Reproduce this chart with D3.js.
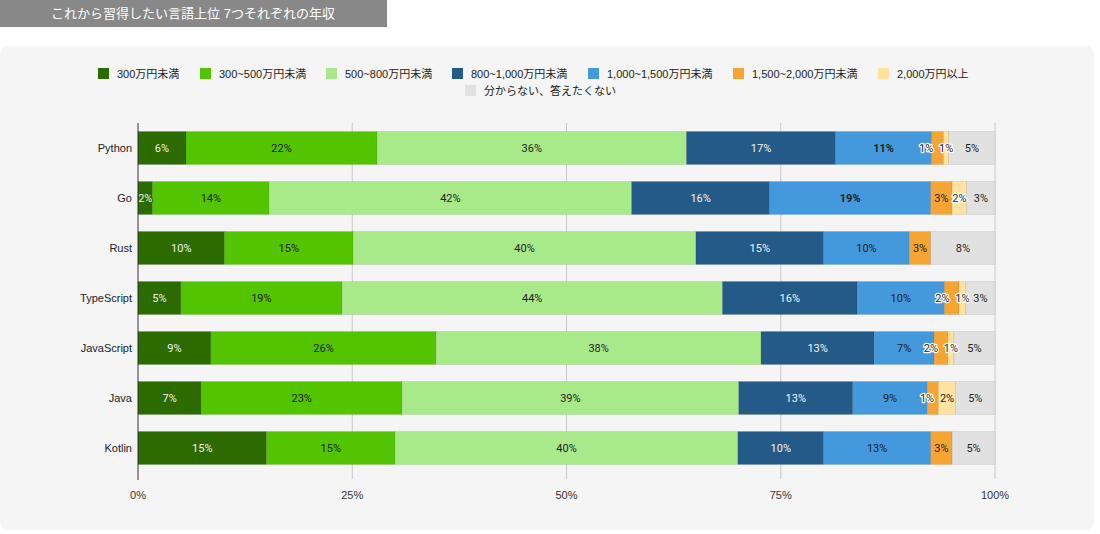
<!DOCTYPE html>
<html>
<head>
<meta charset="utf-8">
<script src="https://cdn.jsdelivr.net/npm/d3@7"></script>
<style>
  body { margin: 0; background: #fff; font-family: "Liberation Sans", Arial, "Noto Sans CJK JP", sans-serif; }
  svg { display: block; }
</style>
</head>
<body>
<svg id="plate" width="1100" height="534"></svg>
<script>
// languages, top to bottom
var languages = ['Python', 'Go', 'Rust', 'TypeScript', 'JavaScript', 'Java', 'Kotlin'];

// income brackets (legend order)
var brackets = ['300万円未満', '300~500万円未満', '500~800万円未満', '800~1,000万円未満',
    '1,000~1,500万円未満', '1,500~2,000万円未満', '2,000万円以上', '分からない、答えたくない'];

// shares in %, one array per bracket, language order as above
var under300 = [5.6, 1.7, 10.1, 5.0, 8.5, 7.4, 15.0];
var from300 = [22.3, 13.6, 15.0, 18.8, 26.3, 23.4, 15.0];
var from500 = [36.1, 42.3, 40.0, 44.4, 37.9, 39.3, 40.0];
var from800 = [17.4, 16.1, 14.9, 15.7, 13.2, 13.3, 10.0];
var from1000 = [11.2, 18.8, 10.0, 10.2, 7.0, 8.7, 12.5];
var from1500 = [1.4, 2.5, 2.5, 1.7, 1.6, 1.3, 2.5];
var over2000 = [0.6, 1.7, 0, 0.8, 0.7, 2.0, 0];
var unknown = [5.4, 3.3, 7.5, 3.4, 4.8, 4.6, 5.0];

// labels printed in bold (language, bracket index)
var boldLabels = [['Python', 4], ['Go', 4]];

var xTicks = [0, 25, 50, 75, 100];

var seriesValues = [under300, from300, from500, from800, from1000, from1500, over2000, unknown];
var colors = ['#2b6b00', '#52c400', '#a8e98a', '#245a87', '#4399dc', '#f6a432', '#fde39f', '#e0e1e0'];
var textColors = ['#f2f2f2', '#1f1f1f', '#1f1f1f', '#f2f2f2', '#1f1f1f', '#1f1f1f', '#1f1f1f', '#1f1f1f'];

var rows = languages.map((lang, i) => {
    var r = {lang: lang};
    brackets.forEach((b, j) => { r[b] = seriesValues[j][i]; });
    return r;
});

var svg = d3.select('#plate');

// title tab
svg.append('rect').attr('x', 0).attr('y', 0).attr('width', 387).attr('height', 27).attr('fill', '#888888');
svg.append('text').attr('x', 193).attr('y', 18).attr('text-anchor', 'middle')
    .attr('fill', '#fff').style('font-size', '13px')
    .text('これから習得したい言語上位 7つそれぞれの年収');

// card
svg.append('rect').attr('x', 0).attr('y', 46).attr('width', 1094).attr('height', 484)
    .attr('rx', 8).attr('fill', '#f5f5f5');

// legend
var legendPos = [[98, 74], [200, 74], [326, 74], [452, 74], [588, 74], [733, 74], [878, 74], [465, 91]];
var legend = svg.append('g').attr('class', 'legend');
brackets.forEach((b, j) => {
    var g = legend.append('g').attr('transform', 'translate(' + legendPos[j][0] + ',' + legendPos[j][1] + ')');
    g.append('rect').attr('x', 0).attr('y', -6).attr('width', 11).attr('height', 11).attr('fill', colors[j]);
    g.append('text').attr('x', 19).attr('y', 4).attr('fill', '#222').style('font-size', '11px').text(b);
});

var margin = {left: 138, top: 123};
var width = 857;
var height = 350;

var x = d3.scaleLinear().domain([0, 100]).range([0, width]);
var y = d3.scaleBand().domain(languages).range([0, height]).paddingInner(0.34).paddingOuter(0.17);

var plot = svg.append('g').attr('transform', 'translate(' + margin.left + ',' + margin.top + ')');

// grid lines
plot.append('g').selectAll('line').data(xTicks.slice(1)).join('line')
    .attr('x1', (d) => x(d)).attr('x2', (d) => x(d))
    .attr('y1', 0).attr('y2', height + 6)
    .attr('stroke', '#c8c8c8');

var stack = d3.stack().keys(brackets)(rows);

var bars = plot.append('g');
stack.forEach((layer, j) => {
    bars.append('g').selectAll('rect').data(layer).join('rect')
        .attr('x', (d) => x(d[0]))
        .attr('y', (d) => y(d.data.lang))
        .attr('width', (d) => Math.max(0, x(d[1]) - x(d[0])))
        .attr('height', y.bandwidth())
        .attr('fill', colors[j])
        .attr('stroke', 'rgba(0,0,0,0.12)')
        .attr('stroke-width', 0.6);
});

// segment labels
var labelW = 15;
languages.forEach((lang, i) => {
    var items = [];
    stack.forEach((layer, j) => {
        var d = layer[i];
        var v = d[1] - d[0];
        if (v <= 0) return;
        items.push({j: j, v: v, cx: x((d[0] + d[1]) / 2), w: x(d[1]) - x(d[0])});
    });
    // push crowded labels to the left
    for (var k = items.length - 2; k >= 0; k--) {
        if (items[k + 1].cx - items[k].cx < 16) {
            items[k].cx = items[k + 1].cx - 20;
        }
    }
    items.forEach((it) => {
        var bold = boldLabels.some((b) => b[0] === lang && b[1] === it.j);
        var tight = it.w < labelW;
        var t = plot.append('text')
            .attr('x', it.cx)
            .attr('y', y(lang) + y.bandwidth() / 2 + 4)
            .attr('text-anchor', 'middle')
            .attr('fill', textColors[it.j])
            .style('font-family', 'Roboto, "Liberation Sans", sans-serif')
            .style('font-size', '11px')
            .style('font-weight', bold ? 'bold' : 'normal')
            .text(Math.round(it.v) + '%');
        if (tight) {
            t.attr('stroke', textColors[it.j] === '#f2f2f2' ? colors[it.j] : '#fff')
                .attr('stroke-width', 2.5)
                .attr('paint-order', 'stroke')
                .attr('stroke-linejoin', 'round');
        }
    });
});

// y axis labels
plot.append('g').selectAll('text').data(languages).join('text')
    .attr('x', -6)
    .attr('y', (d) => y(d) + y.bandwidth() / 2 + 4)
    .attr('text-anchor', 'end')
    .attr('fill', '#222')
    .style('font-size', '11px')
    .text((d) => d);

// left axis line
plot.append('line').attr('x1', 0).attr('x2', 0).attr('y1', 0).attr('y2', height + 7)
    .attr('stroke', '#333');

// x tick labels
plot.append('g').selectAll('text').data(xTicks).join('text')
    .attr('x', (d) => x(d))
    .attr('y', height + 26)
    .attr('text-anchor', 'middle')
    .attr('fill', '#333')
    .style('font-family', '"Liberation Sans Narrow", "Liberation Sans", sans-serif')
    .style('font-size', '11px')
    .text((d) => d + '%');
</script>
</body>
</html>
